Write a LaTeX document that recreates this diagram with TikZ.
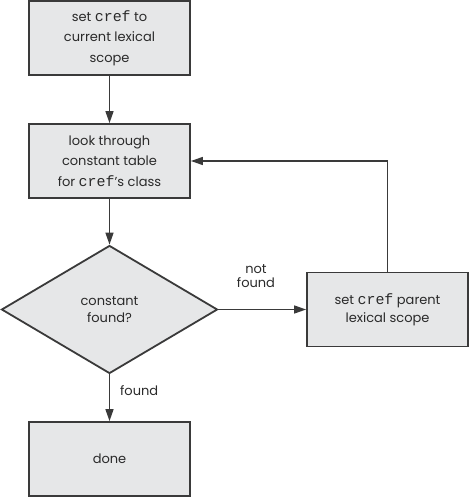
\documentclass[tikz,border=0pt]{standalone}
\usepackage{fontspec}
\setmainfont{Poppins}
\setmonofont[Scale=1.15]{Liberation Mono}
\usetikzlibrary{arrows.meta,shapes.geometric}
\definecolor{boxfill}{HTML}{E6E7E8}
\definecolor{linec}{HTML}{3A3A3A}
\definecolor{textc}{HTML}{2A2A2A}
\begin{document}
\begin{tikzpicture}[x=1pt,y=-1pt,
  font=\fontsize{13}{20.5}\selectfont, text=textc,
  stepbox/.style={draw=linec, line width=1.8pt, fill=boxfill, minimum width=161pt, minimum height=74pt, align=center, inner sep=0pt},
  decision/.style={draw=linec, line width=1.8pt, fill=boxfill, diamond, minimum width=216pt, minimum height=128pt, inner sep=0pt, align=center, font=\fontsize{13}{17.5}\selectfont},
  conn/.style={draw=linec, line width=1.5pt, -{Triangle[length=12pt,width=8pt]}},
  lbl/.style={align=center, inner sep=0pt, font=\fontsize{13}{14}\selectfont}]
\useasboundingbox (0,0) rectangle (469,497);
\node[stepbox] (set) at (109.5,38) {set \texttt{cref} to\\current lexical\\scope};
\node[stepbox] (look) at (109.5,161) {look through\\constant table\\for \texttt{cref}’s class};
\node[decision] (found) at (109.5,309.5) {constant\\found?};
\node[stepbox, font=\fontsize{13}{18}\selectfont] (parent) at (387.5,309.5) {set \texttt{cref} parent\\lexical scope};
\node[stepbox] (done) at (109.5,459) {done};
\draw[conn] (set) -- (look);
\draw[conn] (look) -- (found);
\draw[conn] (found) -- (parent);
\draw[conn] (parent.north) |- (look.east);
\draw[conn] (found) -- (done);
\node[lbl] (nf) at (256,276) {not\\found};
\node[lbl, anchor=west] (fl) at (120,391) {found};
\end{tikzpicture}
\end{document}
